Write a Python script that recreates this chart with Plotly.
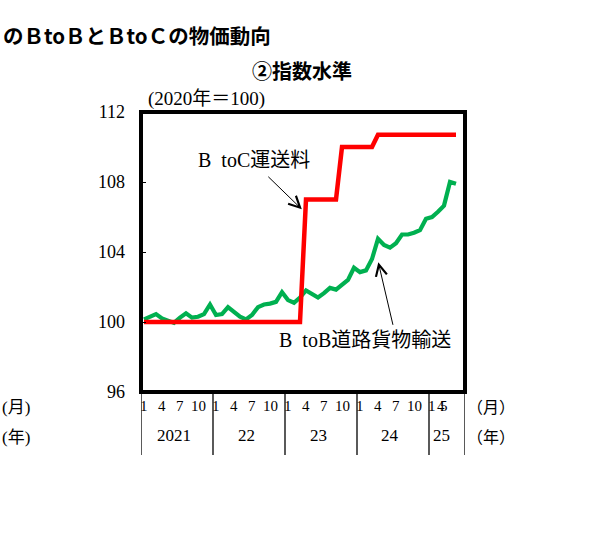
import plotly.graph_objects as go

# ----------------# データ（2021年1月～2025年5月、2020年=100）

years = ["2021", "22", "23", "24", "25"]
months_per_year = [12, 12, 12, 12, 5]
month_labels = ["1", "4", "7", "10"]
month_labels_last = ["1", "4", "5"]

btob_road = [
    100.15, 100.3, 100.45, 100.2, 100.05, 99.95, 100.25, 100.5, 100.25, 100.3, 100.45, 101.0,
    100.4, 100.45, 100.85, 100.55, 100.3, 100.15, 100.4, 100.85, 101.0, 101.05, 101.15, 101.7,
    101.25, 101.1, 101.4, 101.8, 101.6, 101.4, 101.65, 101.95, 101.85, 102.1, 102.4, 103.1,
    102.85, 102.95, 103.6, 104.75, 104.4, 104.25, 104.5, 105.0, 105.0, 105.1, 105.25, 105.9,
    106.0, 106.3, 106.65, 108.0, 107.9,
]
btoc_transport = [100.0] * 27 + [107.0] * 6 + [110.0] * 6 + [110.7] * 14

y_ticks = [96, 100, 104, 108, 112]

# ----------------# 位置の補助（ピクセル -> paper座標）

L, R, T, B = 141, 465, 112, 392
W, H = 597, 537


def px(x):
    return (x - L) / (R - L)


def py(y):
    return (B - y) / (B - T)


serif = "Liberation Serif, Noto Sans CJK JP"
gothic = "Noto Sans CJK JP"

x_idx = list(range(len(btob_road)))
n_slots = sum(months_per_year) + 1  # 2025年は6月分まで枠がある

fig = go.Figure()

fig.add_trace(go.Scatter(
    x=x_idx, y=btob_road, mode="lines",
    line=dict(color="#00B050", width=4.2),
    name="BtoB道路貨物輸送"
))

fig.add_trace(go.Scatter(
    x=x_idx, y=btoc_transport, mode="lines",
    line=dict(color="#FF0000", width=4.5),
    name="BtoC運送料"
))

annotations = []
shapes = []

# 月・年ラベルと区切り線
start = 0
bounds = [-0.5]
for yr, n in zip(years, months_per_year):
    labels = month_labels if n == 12 else month_labels_last
    for j, lab in enumerate(labels):
        pos = start + int(lab) - 1
        if n != 12 and j > 0:
            pos = start + 1.5 + 0.55 * (j - 1)  # 最後の年はラベルが詰まっている
        annotations.append(dict(
            x=pos, y=py(406), xref="x", yref="paper", text=lab, showarrow=False,
            font=dict(family=serif, size=15, color="black"), xanchor="center", yanchor="middle"
        ))
    annotations.append(dict(
        x=start + (n - 1) / 2 - 0.5, y=py(436), xref="x", yref="paper", text=yr,
        showarrow=False, font=dict(family=serif, size=17, color="black"),
        xanchor="center", yanchor="middle"
    ))
    start += n
    bounds.append(start - 0.5)
bounds[-1] = n_slots - 0.5

for b in bounds:
    shapes.append(dict(
        type="line", xref="x", yref="paper", x0=b, x1=b, y0=0, y1=py(455),
        line=dict(color="black", width=1.3)
    ))

# 外枠
shapes.append(dict(
    type="rect", xref="paper", yref="paper", x0=0, x1=1, y0=0, y1=1,
    line=dict(color="black", width=4)
))

# 単位ラベル
annotations.append(dict(
    x=px(491), y=py(407), xref="paper", yref="paper", text="（月）", showarrow=False,
    font=dict(family=serif, size=16, color="black"), xanchor="center", yanchor="middle"
))
annotations.append(dict(
    x=px(491), y=py(437), xref="paper", yref="paper", text="（年）", showarrow=False,
    font=dict(family=serif, size=16, color="black"), xanchor="center", yanchor="middle"
))
annotations.append(dict(
    x=px(0), y=py(407), xref="paper", yref="paper", text="(月)", showarrow=False,
    font=dict(family=serif, size=17, color="black"), xanchor="left", yanchor="middle"
))
annotations.append(dict(
    x=px(0), y=py(437), xref="paper", yref="paper", text="(年)", showarrow=False,
    font=dict(family=serif, size=17, color="black"), xanchor="left", yanchor="middle"
))

# タイトル類
annotations.append(dict(
    x=px(1), y=py(35), xref="paper", yref="paper", text="のＢtoＢとＢtoＣの物価動向",
    showarrow=False, font=dict(family=gothic, size=20.5, color="black", weight="bold"),
    xanchor="left", yanchor="middle"
))
annotations.append(dict(
    x=px(302), y=py(70), xref="paper", yref="paper", text="②指数水準",
    showarrow=False, font=dict(family=gothic, size=20, color="black", weight="bold"),
    xanchor="center", yanchor="middle"
))
annotations.append(dict(
    x=px(146), y=py(99), xref="paper", yref="paper", text="(2020年＝100)",
    showarrow=False, font=dict(family=serif, size=19, color="black"),
    xanchor="left", yanchor="middle"
))

# 系列ラベルと矢印
annotations.append(dict(
    x=px(254), y=py(160), xref="paper", yref="paper", text="B\u00a0 toC運送料",
    showarrow=False, font=dict(family=serif, size=20, color="black"),
    xanchor="center", yanchor="middle"
))
annotations.append(dict(
    x=26.3, y=106.44, xref="x", yref="y", text="", showarrow=True,
    ax=-35, ay=-34, arrowhead=5, arrowsize=2.2, arrowwidth=1, arrowcolor="black"
))
annotations.append(dict(
    x=px(365), y=py(340), xref="paper", yref="paper", text="B\u00a0 toB道路貨物輸送",
    showarrow=False, font=dict(family=serif, size=20, color="black"),
    xanchor="center", yanchor="middle"
))
annotations.append(dict(
    x=39.05, y=103.41, xref="x", yref="y", text="", showarrow=True,
    ax=15, ay=64, arrowhead=5, arrowsize=2.2, arrowwidth=1, arrowcolor="black"
))

fig.update_layout(
    width=W, height=H,
    margin=dict(l=L, r=W - R, t=T, b=H - B),
    paper_bgcolor="white", plot_bgcolor="white",
    showlegend=False,
    xaxis=dict(range=[-0.5, n_slots - 0.5], showticklabels=False, ticks="",
               showgrid=False, zeroline=False, showline=False),
    yaxis=dict(range=[96, 112], tickvals=y_ticks, ticks="inside", ticklen=5,
               tickwidth=1.2, tickcolor="black", ticklabelstandoff=15,
               tickfont=dict(family=serif, size=18, color="black"),
               showgrid=False, zeroline=False, showline=False),
    annotations=annotations,
    shapes=shapes,
)

# ページ余白を消して図を左上に合わせる
fig.write_html("out.html", config={"displayModeBar": False},
               post_script="document.body.style.margin='0px';")
